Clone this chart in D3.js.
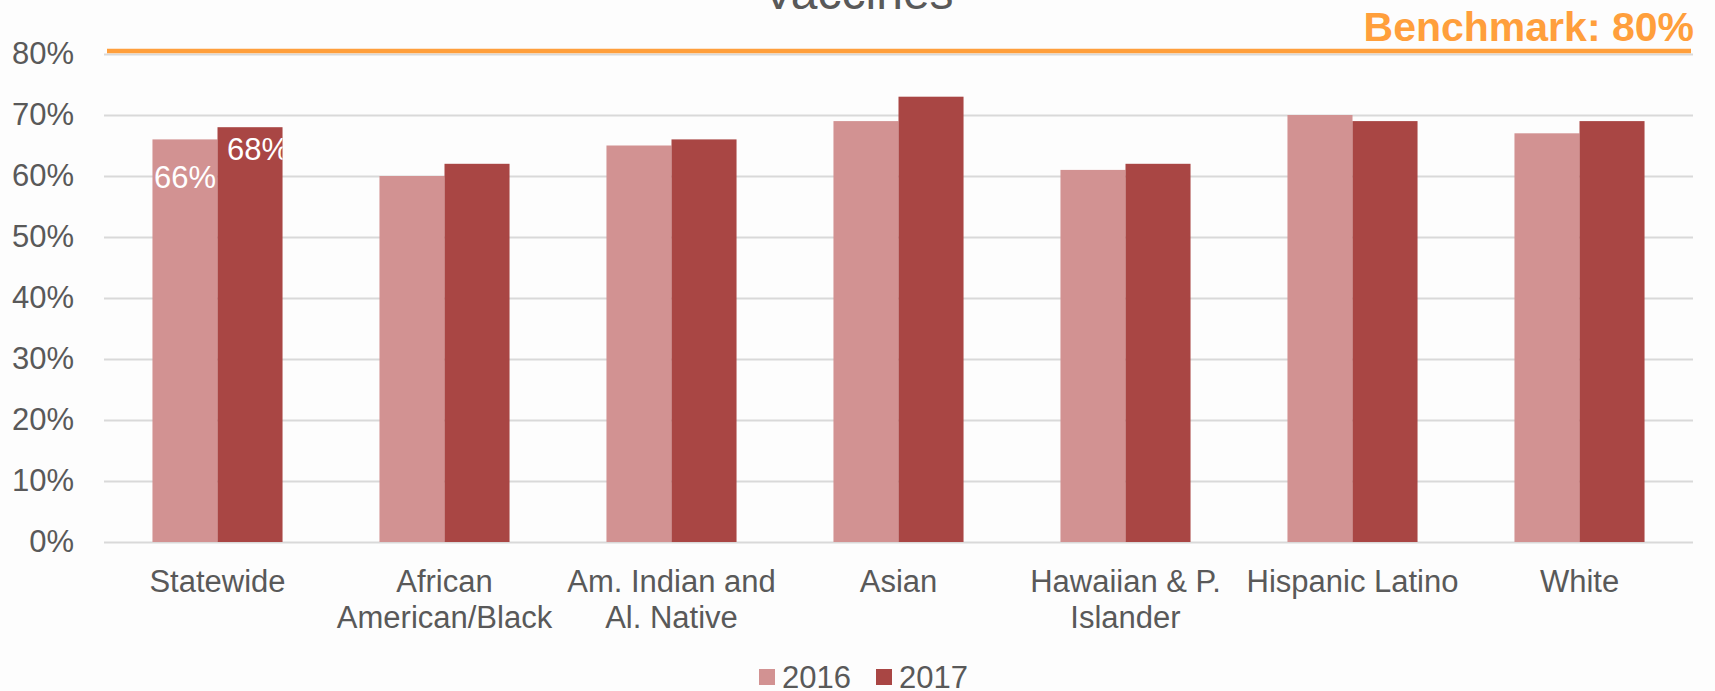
<!DOCTYPE html>
<html>
<head>
<meta charset="utf-8">
<script src="https://cdn.jsdelivr.net/npm/d3@7"></script>
<style>
  html, body { margin: 0; padding: 0; background: #fdfdfd; }
  svg { display: block; font-family: "Liberation Sans", Arial, sans-serif; }
  .tick text { fill: #595959; font-size: 31px; font-family: "Liberation Sans", Arial, sans-serif; }
  .tick line { stroke: #d9d9d9; stroke-width: 2; }
  .xlabel { fill: #595959; font-size: 31px; }
</style>
</head>
<body>
<svg></svg>
<script>
// data
var categories = ["Statewide", "African American/Black", "Am. Indian and Al. Native", "Asian",
                  "Hawaiian & P. Islander", "Hispanic Latino", "White"];
var categoryLines = [["Statewide"], ["African", "American/Black"], ["Am. Indian and", "Al. Native"], ["Asian"],
                     ["Hawaiian & P.", "Islander"], ["Hispanic Latino"], ["White"]];
var years = ["2016", "2017"];
var values2016 = [0.66, 0.60, 0.65, 0.69, 0.61, 0.70, 0.67];
var values2017 = [0.68, 0.62, 0.66, 0.73, 0.62, 0.69, 0.69];
var yTicks = [0, 0.1, 0.2, 0.3, 0.4, 0.5, 0.6, 0.7, 0.8];
var benchmark = 0.8;
var titleText = "Vaccines";
var benchmarkText = "Benchmark: 80%";

var width = 1715;
var height = 691;
var colors = ["#d29292", "#a94644"];
var orange = "#ff9f3c";

var svg = d3.select("svg")
    .attr("width", width)
    .attr("height", height);

var x0 = d3.scaleBand()
    .domain(categories)
    .range([104, 1693])
    .paddingInner(0.427)
    .paddingOuter(0.2135);

var x1 = d3.scaleBand()
    .domain(years)
    .range([0, x0.bandwidth()]);

var y = d3.scaleLinear()
    .domain([0, 0.8])
    .range([542, 54]);

// title (cut off at the top, as in the source)
svg.append("text")
    .attr("x", 858)
    .attr("y", 9)
    .attr("text-anchor", "middle")
    .style("font-size", "48px")
    .style("fill", "#595959")
    .text(titleText);

// y axis + gridlines
var yAxis = svg.append("g")
    .attr("transform", "translate(104,0)")
    .call(d3.axisLeft(y)
        .tickValues(yTicks)
        .tickFormat(d3.format(".0%"))
        .tickSize(-(1693 - 104))
        .tickPadding(30));
yAxis.select(".domain").remove();

// bars
var rows = categories.map(function(c, i) {
    return { cat: c, vals: [values2016[i], values2017[i]] };
});

var defs = svg.append("defs");

var groups = svg.append("g")
    .selectAll("g")
    .data(rows)
    .enter()
    .append("g")
    .attr("transform", function(d) { return "translate(" + x0(d.cat) + ",0)"; });

groups.selectAll("rect")
    .data(function(d) { return d.vals.map(function(v, j) { return { year: years[j], v: v, j: j }; }); })
    .enter()
    .append("rect")
    .attr("x", function(d) { return x1(d.year); })
    .attr("y", function(d) { return y(d.v); })
    .attr("width", x1.bandwidth())
    .attr("height", function(d) { return y(0) - y(d.v); })
    .attr("fill", function(d) { return colors[d.j]; });

// data labels on the Statewide bars only
var labelDy = [49, 33];
var labelDx = [0, 8];
rows[0].vals.forEach(function(v, j) {
    var bx = x0(rows[0].cat) + x1(years[j]);
    var clipId = "clip" + j;
    defs.append("clipPath").attr("id", clipId)
        .append("rect")
        .attr("x", bx)
        .attr("y", y(v))
        .attr("width", x1.bandwidth())
        .attr("height", y(0) - y(v));
    svg.append("text")
        .attr("clip-path", "url(#" + clipId + ")")
        .attr("x", bx + x1.bandwidth() / 2 + labelDx[j])
        .attr("y", y(v) + labelDy[j])
        .attr("text-anchor", "middle")
        .style("font-size", "31px")
        .style("fill", "#ffffff")
        .text(d3.format(".0%")(v));
});

// category labels
var xl = svg.append("g")
    .selectAll("text")
    .data(categories)
    .enter()
    .append("text")
    .attr("class", "xlabel")
    .attr("text-anchor", "middle")
    .attr("x", function(d) { return x0(d) + x0.bandwidth() / 2; })
    .attr("y", 592);

xl.selectAll("tspan")
    .data(function(d, i) { return categoryLines[i]; })
    .enter()
    .append("tspan")
    .attr("x", function() { return d3.select(this.parentNode).attr("x"); })
    .attr("dy", function(d, i) { return i === 0 ? 0 : 36; })
    .text(function(d) { return d; });

// benchmark line
svg.append("line")
    .attr("x1", 107)
    .attr("x2", 1691)
    .attr("y1", y(benchmark) - 3)
    .attr("y2", y(benchmark) - 3)
    .style("stroke", orange)
    .style("stroke-width", 4.5);

svg.append("text")
    .attr("x", 1694)
    .attr("y", 41)
    .attr("text-anchor", "end")
    .style("font-size", "41px")
    .style("font-weight", "bold")
    .style("fill", orange)
    .text(benchmarkText);

// legend
var legendX = [759, 876];
var legend = svg.selectAll("g.legend")
    .data(years)
    .enter()
    .append("g")
    .attr("class", "legend");

legend.append("rect")
    .attr("x", function(d, i) { return legendX[i]; })
    .attr("y", 669)
    .attr("width", 16)
    .attr("height", 16)
    .attr("fill", function(d, i) { return colors[i]; });

legend.append("text")
    .attr("x", function(d, i) { return legendX[i] + 23; })
    .attr("y", 688)
    .style("font-size", "31px")
    .style("fill", "#595959")
    .text(function(d) { return d; });
</script>
</body>
</html>
